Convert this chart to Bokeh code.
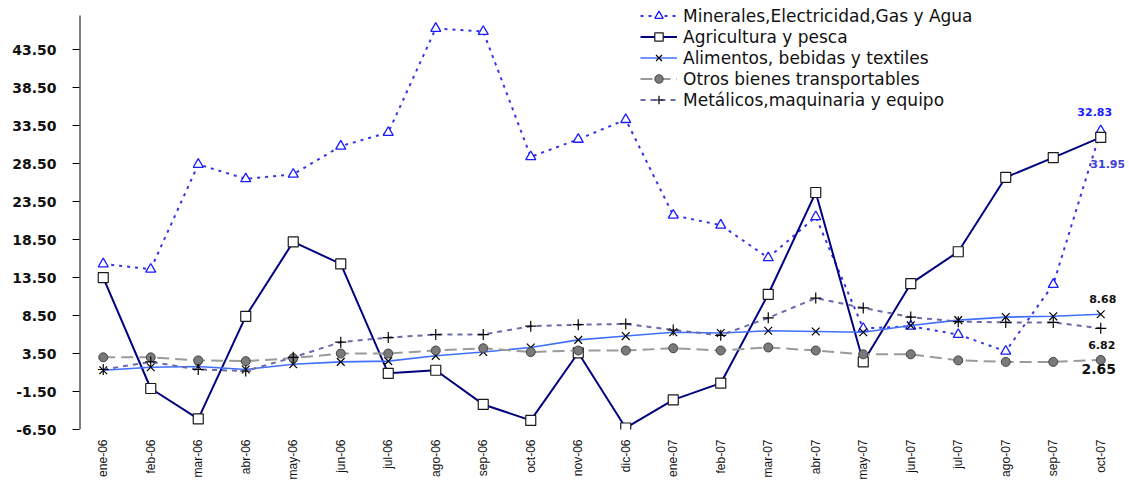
import math
from bokeh.plotting import figure
from bokeh.models import (FactorRange, Range1d, FixedTicker, NumeralTickFormatter,
                          Legend, LegendItem, ColumnDataSource)
from bokeh.transform import dodge
from bokeh.core.properties import value
from bokeh.embed import file_html
from bokeh.resources import INLINE

months = ["ene-06", "feb-06", "mar-06", "abr-06", "may-06", "jun-06", "jul-06",
          "ago-06", "sep-06", "oct-06", "nov-06", "dic-06", "ene-07", "feb-07",
          "mar-07", "abr-07", "may-07", "jun-07", "jul-07", "ago-07", "sep-07", "oct-07"]

minerales = [15.3, 14.6, 28.4, 26.5, 27.1, 30.8, 32.6, 46.3, 45.9, 29.4, 31.7, 34.3,
             21.7, 20.4, 16.1, 21.5, 6.8, 7.1, 6.0, 3.8, 12.6, 32.83]
agricultura = [13.5, -1.1, -5.1, 8.4, 18.2, 15.3, 0.9, 1.3, -3.2, -5.3, 3.6, -6.3,
               -2.6, -0.4, 11.3, 24.7, 2.4, 12.7, 16.9, 26.7, 29.3, 31.95]
alimentos = [1.3, 1.7, 1.8, 1.4, 2.1, 2.4, 2.5, 3.2, 3.7, 4.3, 5.3, 5.8,
             6.3, 6.2, 6.5, 6.4, 6.3, 7.2, 7.9, 8.3, 8.4, 8.68]
otros = [3.0, 3.0, 2.6, 2.5, 2.9, 3.5, 3.5, 3.9, 4.2, 3.7, 3.9, 3.9,
         4.2, 3.9, 4.3, 3.9, 3.4, 3.4, 2.6, 2.4, 2.4, 2.65]
metalicos = [1.4, 2.4, 1.4, 1.2, 3.0, 5.0, 5.6, 6.0, 6.0, 7.1, 7.3, 7.4,
             6.6, 5.9, 8.2, 10.8, 9.5, 8.3, 7.7, 7.6, 7.6, 6.82]

series_names = ["Minerales,Electricidad,Gas y Agua", "Agricultura y pesca",
                "Alimentos, bebidas y textiles", "Otros bienes transportables",
                "Metálicos,maquinaria y equipo"]

y_ticks = [-6.5, -1.5, 3.5, 8.5, 13.5, 18.5, 23.5, 28.5, 33.5, 38.5, 43.5]
y_axis_min, y_axis_max = -6.5, 48.0

p = figure(width=1129, height=482, x_range=FactorRange(*months, range_padding=0),
           y_range=Range1d(-6.5, 49.32), output_backend="svg", toolbar_location=None,
           min_border_left=79, min_border_right=5, min_border_top=5, min_border_bottom=50)
p.outline_line_color = None
p.xgrid.visible = False
p.ygrid.visible = False
p.background_fill_color = "white"

# y axis
p.yaxis.ticker = FixedTicker(ticks=y_ticks)
p.yaxis.formatter = NumeralTickFormatter(format="0.00")
p.yaxis.major_label_text_font = "DejaVu Sans"
p.yaxis.major_label_text_font_style = "bold"
p.yaxis.major_label_text_font_size = "14px"
p.yaxis.major_label_text_color = "#111111"
p.yaxis.major_tick_out = 7
p.yaxis.major_tick_in = 0
p.yaxis.major_tick_line_color = "black"
p.yaxis.minor_tick_line_color = None
p.yaxis.axis_line_color = None
p.yaxis.major_label_standoff = 16

# visible y axis line (shorter than the frame so the legend is not clipped)
axsrc = ColumnDataSource(dict(m=[months[0]], y0=[y_axis_min], y1=[y_axis_max]))
p.segment(x0=dodge("m", -0.5, range=p.x_range), y0="y0",
          x1=dodge("m", -0.5, range=p.x_range), y1="y1",
          source=axsrc, line_color="black", line_width=2)

# x axis
p.xaxis.axis_line_color = None
p.xaxis.major_tick_line_color = None
p.xaxis.major_tick_out = 0
p.xaxis.major_tick_in = 0
p.xaxis.minor_tick_line_color = None
p.xaxis.major_label_orientation = math.pi / 2
p.xaxis.major_label_text_font = "Liberation Sans"
p.xaxis.major_label_text_font_size = "12px"
p.xaxis.major_label_text_color = "#111111"
p.xaxis.major_label_standoff = 10

src = ColumnDataSource(dict(m=months, a=minerales, b=agricultura, c=alimentos,
                            d=otros, e=metalicos))

r1l = p.line("m", "a", source=src, line_color="#3535e8", line_width=2, line_dash="3 5")
r1m = p.scatter("m", "a", source=src, marker="triangle", size=10, line_color="#1a1aff",
                fill_color="white", line_width=1.3)

r2l = p.line("m", "b", source=src, line_color="#000080", line_width=2)
r2m = p.scatter("m", "b", source=src, marker="square", size=10, line_color="#1a1a1a",
                fill_color="white", line_width=1.2)

r3l = p.line("m", "c", source=src, line_color="#3f6fff", line_width=1.6)
r3m = p.scatter("m", "c", source=src, marker="x", size=11, line_color="black",
                line_width=1.2)

r4l = p.line("m", "d", source=src, line_color="#9a9a9a", line_width=2, line_dash="12 6")
r4m = p.scatter("m", "d", source=src, marker="circle", size=9, line_color="#444444",
                fill_color="#7a7a7a", line_width=1)

r5l = p.line("m", "e", source=src, line_color="#6a6aa8", line_width=2, line_dash="5 5")
r5m = p.scatter("m", "e", source=src, marker="cross", size=11, line_color="black",
                line_width=1.2)

legend = Legend(items=[
    LegendItem(label=series_names[0], renderers=[r1l, r1m]),
    LegendItem(label=series_names[1], renderers=[r2l, r2m]),
    LegendItem(label=series_names[2], renderers=[r3l, r3m]),
    LegendItem(label=series_names[3], renderers=[r4l, r4m]),
    LegendItem(label=series_names[4], renderers=[r5l, r5m]),
], location=(561, 319))
legend.border_line_color = None
legend.background_fill_alpha = 0
legend.padding = 0
legend.margin = 0
legend.spacing = 0
legend.glyph_width = 37
legend.glyph_height = 21
legend.label_height = 21
legend.label_standoff = 6
legend.label_text_font = "DejaVu Sans"
legend.label_text_font_size = "17px"
legend.label_text_color = "#111111"
p.add_layout(legend)

# data labels for last point
last = months[-1]
def lab(val, xo, yo, color, size):
    p.text(x=[last], y=[val], text=[f"{val:.2f}"], x_offset=xo, y_offset=yo,
           text_font=value("DejaVu Sans"), text_font_style="bold",
           text_font_size=size, text_color=color, text_align="center",
           text_baseline="middle")

lab(minerales[-1], -6, -19, "#1a1aff", "11px")
lab(agricultura[-1], 7, 27, "#4040d8", "11px")
lab(alimentos[-1], 2, -15, "#111111", "11px")
lab(metalicos[-1], 1, 17, "#111111", "11px")
lab(otros[-1], -2, 9, "#111111", "14px")

open("out.html", "w").write(file_html(p, INLINE))
